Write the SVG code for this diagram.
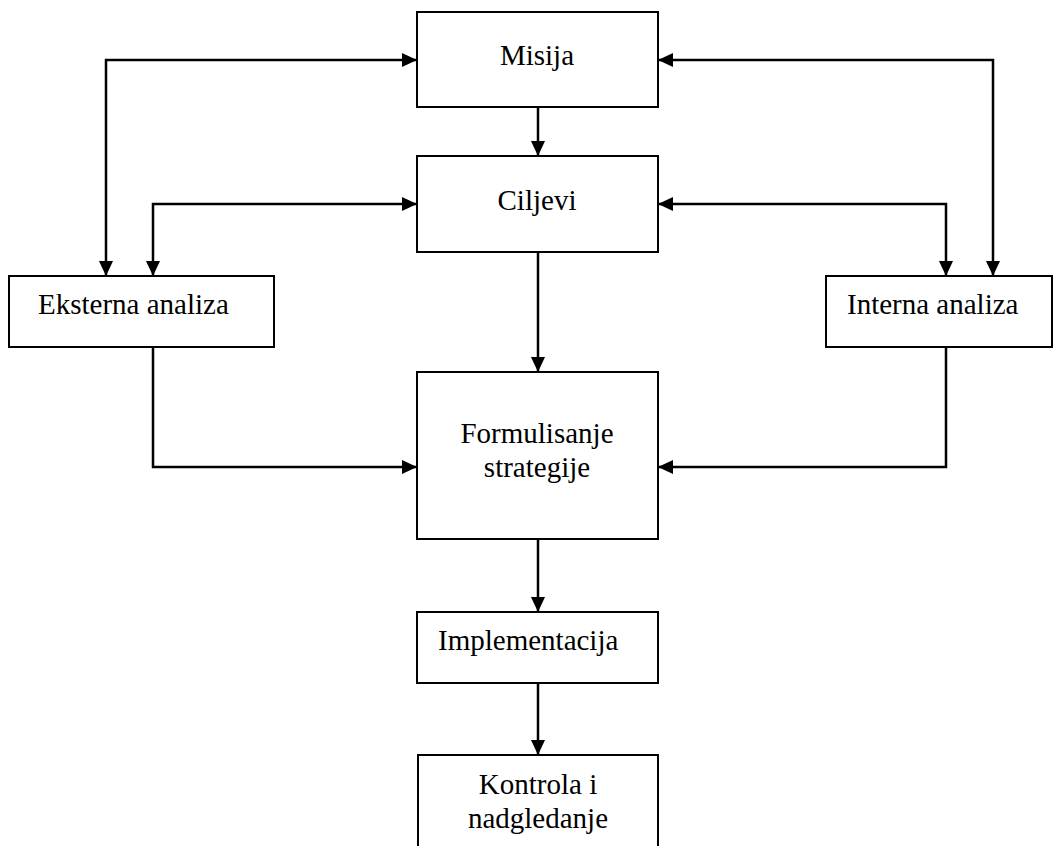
<svg xmlns="http://www.w3.org/2000/svg" width="1054" height="846" viewBox="0 0 1054 846">
<defs>
<marker id="ah" markerUnits="userSpaceOnUse" markerWidth="15" markerHeight="14" refX="15" refY="7" orient="auto-start-reverse">
<path d="M0,0 L15,7 L0,14 z" fill="#000"/>
</marker>
<style>
.box{fill:#fff;stroke:#000;stroke-width:2}
.lbl{font-family:"Liberation Serif","Times New Roman",serif;font-size:29px;fill:#000}
.c{text-anchor:middle}
.con path{fill:none;stroke:#000;stroke-width:2.5}
</style>
</defs>
<rect width="1054" height="846" fill="#fff"/>
<g id="connectors" class="con">
<path d="M106,276 V60 H417" marker-start="url(#ah)" marker-end="url(#ah)"/>
<path d="M993,276 V60 H658" marker-start="url(#ah)" marker-end="url(#ah)"/>
<path d="M153,276 V204 H417" marker-start="url(#ah)" marker-end="url(#ah)"/>
<path d="M946,276 V204 H658" marker-start="url(#ah)" marker-end="url(#ah)"/>
<path d="M538,107 V156" marker-end="url(#ah)"/>
<path d="M538,252 V372" marker-end="url(#ah)"/>
<path d="M153,347 V467 H417" marker-end="url(#ah)"/>
<path d="M946,347 V467 H658" marker-end="url(#ah)"/>
<path d="M538,539 V612" marker-end="url(#ah)"/>
<path d="M538,683 V755" marker-end="url(#ah)"/>
</g>
<g id="misija">
<rect class="box" x="417" y="12" width="241" height="95"/>
<text class="lbl c" x="537" y="65">Misija</text>
</g>
<g id="ciljevi">
<rect class="box" x="417" y="156" width="241" height="96"/>
<text class="lbl c" x="537" y="210">Ciljevi</text>
</g>
<g id="eksterna">
<rect class="box" x="9" y="276" width="265" height="71"/>
<text class="lbl" x="38" y="314">Eksterna analiza</text>
</g>
<g id="interna">
<rect class="box" x="826" y="276" width="226" height="71"/>
<text class="lbl" x="847" y="314">Interna analiza</text>
</g>
<g id="formulisanje">
<rect class="box" x="417" y="372" width="241" height="167"/>
<text class="lbl c" x="537" y="443">Formulisanje</text>
<text class="lbl c" x="537" y="477">strategije</text>
</g>
<g id="implementacija">
<rect class="box" x="417" y="612" width="241" height="71"/>
<text class="lbl" x="438" y="650">Implementacija</text>
</g>
<g id="kontrola">
<rect class="box" x="418" y="755" width="240" height="100"/>
<text class="lbl c" x="538" y="794">Kontrola i</text>
<text class="lbl c" x="538" y="828">nadgledanje</text>
</g>
</svg>
